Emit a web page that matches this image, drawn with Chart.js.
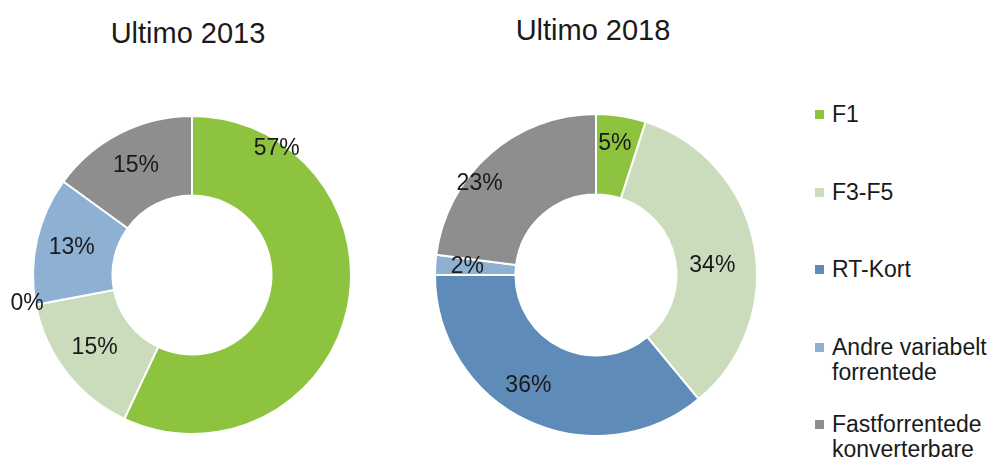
<!DOCTYPE html>
<html><head><meta charset="utf-8">
<script src="https://cdn.jsdelivr.net/npm/chart.js@4/dist/chart.umd.min.js"></script>
<style>
html,body{margin:0;padding:0;background:#fff;}
body{width:994px;height:464px;position:relative;overflow:hidden;font-family:"Liberation Sans",Arial,sans-serif;color:#1a1a1a;}
.title{position:absolute;font-size:29px;line-height:29px;text-align:center;width:300px;white-space:nowrap;}
canvas{position:absolute;}
#legend{position:absolute;left:814px;top:102px;font-size:23px;line-height:25px;white-space:nowrap;}
.li{position:relative;padding-left:18px;height:77.5px;}
.li span.m{position:absolute;left:1px;top:8px;width:9px;height:9px;}
</style></head><body>
<div class="title" style="left:38px;top:19px;">Ultimo 2013</div>
<div class="title" style="left:443px;top:16px;">Ultimo 2018</div>
<canvas id="c1" width="400" height="464" style="left:0;top:0;width:400px;height:464px"></canvas>
<canvas id="c2" width="400" height="464" style="left:400px;top:0;width:400px;height:464px"></canvas>
<div id="legend"></div>
<script>
const categories = ["F1", "F3-F5", "RT-Kort", "Andre variabelt forrentede", "Fastforrentede konverterbare"];
const legendLines = [["F1"], ["F3-F5"], ["RT-Kort"], ["Andre variabelt", "forrentede"], ["Fastforrentede", "konverterbare"]];
const values2013 = [57, 15, 0, 13, 15];
const values2018 = [5, 34, 36, 2, 23];
const colors = ["#8dc33f", "#cbdcbc", "#5f8bb8", "#8eb0d3", "#8e8e8e"];

const labelPlugin = {
  id: 'sliceLabels',
  afterDatasetsDraw(chart, args, opts) {
    const ctx = chart.ctx;
    const meta = chart.getDatasetMeta(0);
    const data = chart.data.datasets[0].data;
    ctx.save();
    ctx.font = '23px "Liberation Sans", Arial, sans-serif';
    ctx.fillStyle = '#1a1a1a';
    ctx.textAlign = 'center';
    ctx.textBaseline = 'middle';
    meta.data.forEach((arc, i) => {
      const p = arc.getProps(['x','y','startAngle','endAngle','innerRadius','outerRadius'], true);
      const tw = (opts.tweaks && opts.tweaks[i]) || {};
      let a = (p.startAngle + p.endAngle) / 2 + (tw.da || 0) * Math.PI / 180;
      let r;
      if (tw.outside) r = p.outerRadius + (tw.out || 14);
      else r = p.innerRadius + (p.outerRadius - p.innerRadius) * (tw.rf != null ? tw.rf : 0.55);
      ctx.fillText(data[i] + '%', p.x + Math.cos(a) * r + (tw.dx || 0), p.y + Math.sin(a) * r + (tw.dy || 0));
    });
    ctx.restore();
  }
};

function makeChart(id, values, padding, tweaks) {
  return new Chart(document.getElementById(id), {
    type: 'doughnut',
    data: { labels: categories, datasets: [{ data: values, backgroundColor: colors, borderColor: '#ffffff', borderWidth: 2 }] },
    options: {
      responsive: false, animation: false, cutout: '50%',
      layout: { padding: padding },
      plugins: { legend: { display: false }, tooltip: { enabled: false }, title: { display: false }, sliceLabels: { tweaks: tweaks } }
    },
    plugins: [labelPlugin]
  });
}

makeChart('c1', values2013, { left: 32, right: 48, top: 115, bottom: 29 },
  { 0: { da: -69, rf: 0.88, dx: 2, dy: -2 }, 1: { dy: -3 }, 2: { outside: true, out: 14, dx: 5, dy: -4 }, 3: { rf: 0.55 }, 4: { rf: 0.55 } });
makeChart('c2', values2018, { left: 34, right: 42, top: 113, bottom: 27 },
  { 0: { rf: 0.65, dx: -2 }, 1: { da: 6, rf: 0.45 }, 2: { da: 6, rf: 0.55, dx: -3, dy: 4 }, 3: { rf: 0.6 }, 4: { da: -10, rf: 0.85, dy: 2 } });

const lg = document.getElementById('legend');
legendLines.forEach((lines, i) => {
  const d = document.createElement('div');
  d.className = 'li';
  const m = document.createElement('span');
  m.className = 'm';
  m.style.background = colors[i];
  d.appendChild(m);
  lines.forEach((t, k) => { if (k) d.appendChild(document.createElement('br')); d.appendChild(document.createTextNode(t)); });
  lg.appendChild(d);
});
</script>
</body></html>
